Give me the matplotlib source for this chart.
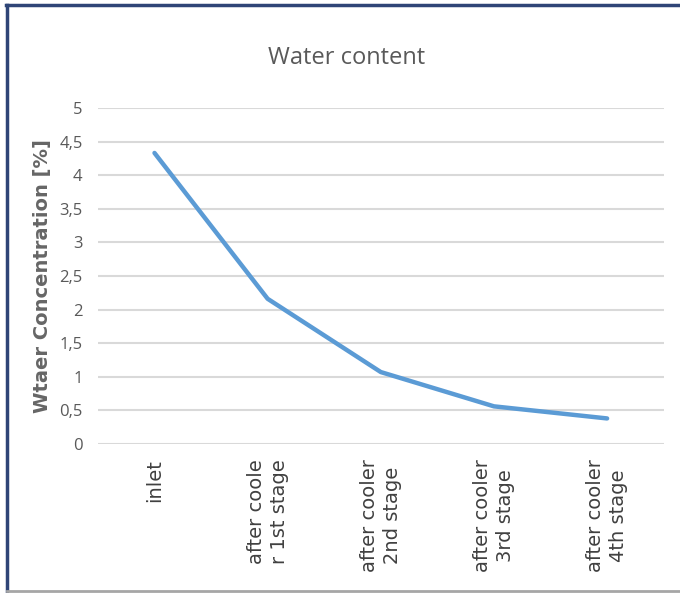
import matplotlib.pyplot as plt
from matplotlib.lines import Line2D
from matplotlib.ticker import FuncFormatter

# measurement points along the compressor train
stages = ['inlet', 'after coole\nr 1st stage', 'after cooler\n2nd stage',
          'after cooler\n3rd stage', 'after cooler\n4th stage']
water = [4.33, 2.16, 1.07, 0.56, 0.38]
yticks = [0, 0.5, 1, 1.5, 2, 2.5, 3, 3.5, 4, 4.5, 5]

grey = '#595959'

fig = plt.figure(figsize=(6.8, 5.93), dpi=100)
ax = fig.add_axes([0.144, 0.2513, 0.832, 0.5667])

x = list(range(len(stages)))
ax.plot(x, water, color='#5B9BD5', lw=3.2, solid_capstyle='round',
        solid_joinstyle='round', zorder=3)

ax.set_xlim(-0.5, len(stages) - 0.5)
ax.set_ylim(0, 5)
ax.set_yticks(yticks)
ax.yaxis.set_major_formatter(FuncFormatter(lambda v, p: ('%g' % v).replace('.', ',')))
ax.set_xticks(x)
ax.set_xticklabels(stages, rotation=90, ha='center', va='top',
                   multialignment='center', linespacing=1.25,
                   fontsize=14, family='DejaVu Sans', color='#404040')
for lab in ax.get_yticklabels():
    lab.set_family('Open Sans')
    lab.set_fontsize(12)
    lab.set_color(grey)

ax.grid(axis='y', color='#D9D9D9', lw=1.5)
ax.set_axisbelow(True)
ax.tick_params(length=0)
ax.tick_params(axis='y', pad=11)
ax.tick_params(axis='x', pad=11)
for s in ax.spines.values():
    s.set_visible(False)

fig.text(0.51, 0.903, 'Water content', ha='center', va='center',
         fontsize=17, color=grey, family='Open Sans')
fig.text(43 / 680, 0.534, 'Wtaer Concentration [%]', rotation=90,
         ha='center', va='center', fontsize=14, fontweight='bold',
         color='#666666', family='DejaVu Sans')

# frame around the chart
W, H = 680, 593
fig.add_artist(Line2D([6 / W, 1], [1 - 5 / H, 1 - 5 / H], color='#2F4577', lw=2.5))
fig.add_artist(Line2D([7 / W, 7 / W], [1 - 5 / H, 1 - 591 / H], color='#2F4577', lw=2.5))
fig.add_artist(Line2D([7 / W, 1], [1 - 591 / H, 1 - 591 / H], color='#A6A6A6', lw=2))

fig.savefig('out.png', dpi=100)
